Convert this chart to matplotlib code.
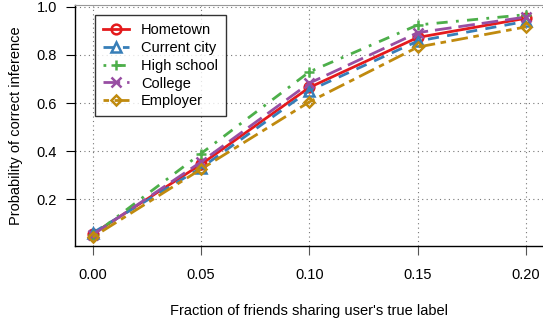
import matplotlib
matplotlib.use("Agg")
import matplotlib.pyplot as plt

plt.rcParams['font.family'] = ['Liberation Sans', 'DejaVu Sans']

fraction = [0.00, 0.05, 0.10, 0.15, 0.20]
hometown = [0.055, 0.345, 0.665, 0.873, 0.953]
current_city = [0.060, 0.330, 0.652, 0.858, 0.940]
high_school = [0.050, 0.390, 0.730, 0.925, 0.968]
college = [0.052, 0.355, 0.683, 0.893, 0.958]
employer = [0.042, 0.325, 0.605, 0.833, 0.917]

series = [
    ('Hometown', hometown, '#E41A1C', '-', 'o'),
    ('Current city', current_city, '#377EB8', (0, (4, 3)), '^'),
    ('High school', high_school, '#4DAF4A', (0, (1, 3, 4, 3)), '+'),
    ('College', college, '#984EA3', (0, (6, 2.5)), 'x'),
    ('Employer', employer, '#C08A0E', (0, (2, 2, 6, 2)), 'D'),
]

fig = plt.figure(figsize=(5.43, 3.21), dpi=100)
ax = fig.add_axes([0.1381, 0.2336, 0.8619, 0.7508])

for name, vals, col, ls, mk in series:
    ms = 5.5 if mk == 'D' else 7
    ax.plot(fraction, vals, color=col, linestyle=ls, linewidth=2, marker=mk,
            markersize=ms, markerfacecolor='none', markeredgewidth=1.8,
            label=name)

ax.set_xlim(-0.0082, 0.2078)
ax.set_ylim(0.005, 1.008)
ax.set_xticks(fraction)
ax.set_xticklabels(['0.00', '0.05', '0.10', '0.15', '0.20'])
ax.set_yticks([0.2, 0.4, 0.6, 0.8, 1.0])
ax.set_yticklabels(['0.2', '0.4', '0.6', '0.8', '1.0'])
ax.grid(True, color='#777777', linestyle=(0, (1, 3)), linewidth=0.8)
ax.tick_params(direction='out', length=6.5, labelsize=10.5)
ax.tick_params(axis='x', color='#555555', pad=9)
ax.tick_params(axis='y', pad=6.5)
ax.spines['right'].set_visible(False)
ax.spines['top'].set_color('#999999')
for s in ['left', 'bottom']:
    ax.spines[s].set_linewidth(1)

ax.set_xlabel("Fraction of friends sharing user's true label", fontsize=10.5, labelpad=16)
ax.set_ylabel('Probability of correct inference', fontsize=10.5, labelpad=10)

leg = ax.legend(loc='upper left', bbox_to_anchor=(0.043, 0.958), fontsize=10.5,
                frameon=True, fancybox=False, edgecolor='black',
                handlelength=1.8, labelspacing=0.26, borderpad=0.55,
                handletextpad=0.8, borderaxespad=0)
leg.get_frame().set_linewidth(1)

fig.savefig('out.png', dpi=100)
